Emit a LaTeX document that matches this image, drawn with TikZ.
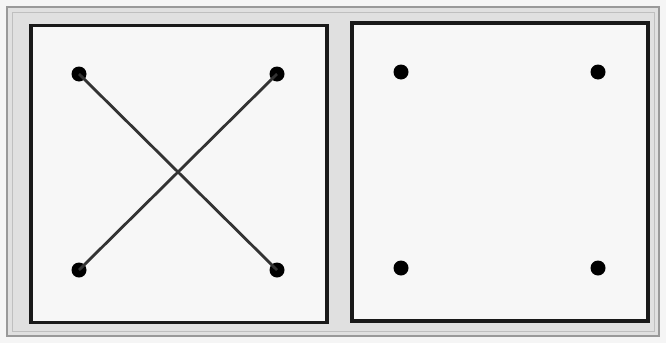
\documentclass[tikz,border=0pt]{standalone}
\begin{document}
\begin{tikzpicture}[x=1pt,y=-1pt,
  boxstyle/.style={draw=black!90,line width=3.5pt,fill=white!97!black},
  dotstyle/.style={circle,fill=black,inner sep=0pt,minimum size=15pt},
  linkstyle/.style={draw=black!80,line width=2.8pt}]
\useasboundingbox (0,0) rectangle (666,343);
\fill[black!4] (0,0) rectangle (666,343);
\filldraw[fill=black!12,draw=black!40,line width=2pt] (7,7) rectangle (659,336);
\draw[black!25,line width=1pt] (12,12) rectangle (654,331);
\node[boxstyle,minimum width=296pt,minimum height=297pt,inner sep=0pt] (L) at (179,174) {};
\node[boxstyle,minimum width=296pt,minimum height=298pt,inner sep=0pt] (R) at (500,172) {};
\node[dotstyle] (a) at (79,74) {};
\node[dotstyle] (b) at (277,74) {};
\node[dotstyle] (c) at (79,270) {};
\node[dotstyle] (d) at (277,270) {};
\node[dotstyle] (e) at (401,72) {};
\node[dotstyle] (f) at (598,72) {};
\node[dotstyle] (g) at (401,268) {};
\node[dotstyle] (h) at (598,268) {};
\draw[linkstyle] (a.center) -- (d.center);
\draw[linkstyle] (b.center) -- (c.center);
\end{tikzpicture}
\end{document}
